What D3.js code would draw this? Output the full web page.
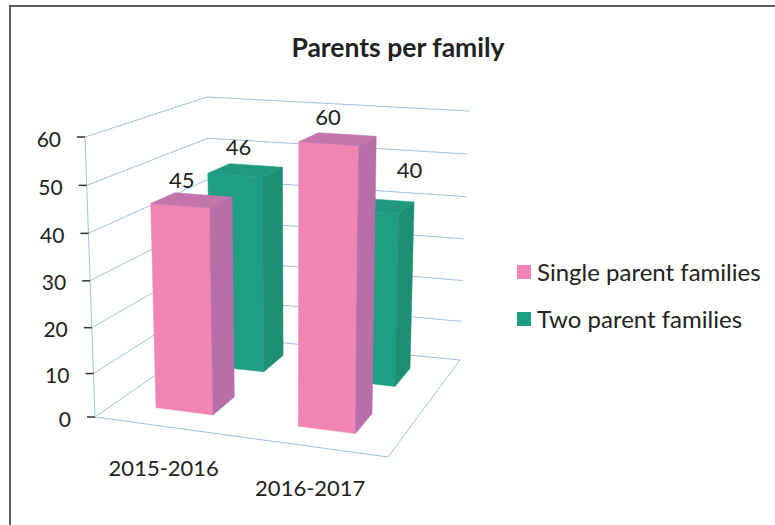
<!DOCTYPE html>
<html>
<head>
<meta charset="utf-8">
<script src="https://cdn.jsdelivr.net/npm/d3@7/dist/d3.min.js"></script>
<style>
html,body{margin:0;padding:0;background:#fff}
svg{display:block}
text{font-family:Lato,"Open Sans",sans-serif;fill:#222}
</style>
</head>
<body>
<svg id="chart" width="775" height="525"></svg>
<script>
const title = "Parents per family";
const categories = ["2015-2016", "2016-2017"];
const seriesNames = ["Single parent families", "Two parent families"];
const singleParent = [45, 60];
const twoParent = [46, 40];
const valueTicks = [0, 10, 20, 30, 40, 50, 60];

const svg = d3.select("#chart");

// Projection: the plot box is a perspective cuboid, described by its 8 screen corners.
const box = {
  floor: {fl:[95,417], fr:[388,457], bl:[212,336], br:[460,360]},
  top:   {fl:[85,137], fr:[393,157], bl:[207,97],  br:[469,111]}
};
const uScale = d3.scaleBand().domain(categories).range([0, 1]);
const barInset = 0.14, barWidth = 0.2;
const depths = [{d0:0.18, d1:0.39}, {d0:0.68, d1:0.87}];
const vScale = d3.scalePow().exponent(1.04).domain([0, 60]).range([0, 1]);

const mix = (a, b, t) => [a[0] + (b[0]-a[0])*t, a[1] + (b[1]-a[1])*t];
function project(u, d, value) {
  const bottom = mix(mix(box.floor.fl, box.floor.fr, u), mix(box.floor.bl, box.floor.br, u), d);
  const top = mix(mix(box.top.fl, box.top.fr, u), mix(box.top.bl, box.top.br, u), d);
  return mix(bottom, top, vScale(value));
}
const poly = pts => d3.line()(pts);

// Frame
svg.append("path").attr("d", "M10,525V6H775")
  .attr("fill", "none").attr("stroke", "#5c5c5c").attr("stroke-width", 2);

// Title
svg.append("text").attr("x", 398).attr("y", 47).attr("text-anchor", "middle")
  .attr("dominant-baseline", "central").attr("font-size", 26.5).attr("font-weight", 700)
  .text(title);

// Grid
const gridColor = "#9fc3dd";
const grid = svg.append("g").attr("fill", "none").attr("stroke", gridColor).attr("stroke-width", 1);
grid.selectAll("path.g").data(valueTicks).join("path").attr("class", "g")
  .attr("d", v => poly([project(0,0,v), project(0,1,v), project(1,1,v)]));
grid.append("path").attr("d", poly([project(0,0,0), project(1,0,0), project(1,1,0)]));
grid.append("path").attr("d", poly([project(0,0,0), project(0,0,60)]));

// Axis ticks and labels
const tickG = svg.append("g");
tickG.selectAll("line").data(valueTicks).join("line")
  .attr("x1", v => project(0,0,v)[0] - 8).attr("x2", v => project(0,0,v)[0])
  .attr("y1", v => project(0,0,v)[1]).attr("y2", v => project(0,0,v)[1])
  .attr("stroke", "#333").attr("stroke-width", 1.5);
tickG.selectAll("text").data(valueTicks).join("text")
  .attr("x", v => project(0,0,v)[0] - 24).attr("y", v => project(0,0,v)[1] + 1)
  .attr("text-anchor", "end").attr("dominant-baseline", "central")
  .attr("font-size", 21).text(v => v);

// Category labels
svg.append("g").selectAll("text").data(categories).join("text")
  .attr("x", c => project(uScale(c) + uScale.bandwidth()/2, 0, 0)[0] - 4.5)
  .attr("y", c => project(uScale(c) + uScale.bandwidth()/2, 0, 0)[1] + 40)
  .attr("text-anchor", "middle").attr("dominant-baseline", "central")
  .attr("font-size", 22).text(c => c);

// Bars
const colors = [
  {front:"#f085b4", side:"#b86ea8", top:"#c274ab"},
  {front:"#1f9f82", side:"#1c8f74", top:"#1f9a7e"}
];
const labelNudge = [[[-10,-21],[-10,-23]], [[-7,-24],[30,-36]]];
const values = [singleParent, twoParent];
const barList = [];
categories.forEach((c, ci) => {
  [1, 0].forEach(si => barList.push({c, ci, si, value: values[si][ci]}));
});
const bars = svg.append("g");
barList.forEach(b => {
  const u0 = uScale(b.c) + barInset, u1 = u0 + barWidth;
  const {d0, d1} = depths[b.si];
  const col = colors[b.si];
  const g = bars.append("g");
  const face = (pts, fill) => g.append("path").attr("d", poly(pts) + "Z")
    .attr("fill", fill).attr("stroke", fill).attr("stroke-width", 0.5);
  face([project(u0,d0,0), project(u1,d0,0), project(u1,d0,b.value), project(u0,d0,b.value)], col.front);
  face([project(u1,d0,0), project(u1,d1,0), project(u1,d1,b.value), project(u1,d0,b.value)], col.side);
  face([project(u0,d0,b.value), project(u1,d0,b.value), project(u1,d1,b.value), project(u0,d1,b.value)], col.top);
});

// Data labels
svg.append("g").selectAll("text").data(barList).join("text")
  .attr("x", b => project(uScale(b.c)+barInset+barWidth/2, (depths[b.si].d0+depths[b.si].d1)/2, b.value)[0] + labelNudge[b.si][b.ci][0])
  .attr("y", b => project(uScale(b.c)+barInset+barWidth/2, (depths[b.si].d0+depths[b.si].d1)/2, b.value)[1] + labelNudge[b.si][b.ci][1])
  .attr("text-anchor", "middle").attr("dominant-baseline", "central")
  .attr("font-size", 22).text(b => b.value);

// Legend
const legendY = d3.scalePoint().domain(seriesNames).range([271, 318]);
const legend = svg.append("g").selectAll("g").data(seriesNames).join("g");
legend.append("rect").attr("x", 517).attr("y", n => legendY(n) - 6)
  .attr("width", 14).attr("height", 14).attr("fill", (n, i) => colors[i].front);
legend.append("text").attr("x", 537).attr("y", n => legendY(n))
  .attr("dominant-baseline", "central").attr("font-size", 24).text(n => n);
</script>
</body>
</html>
